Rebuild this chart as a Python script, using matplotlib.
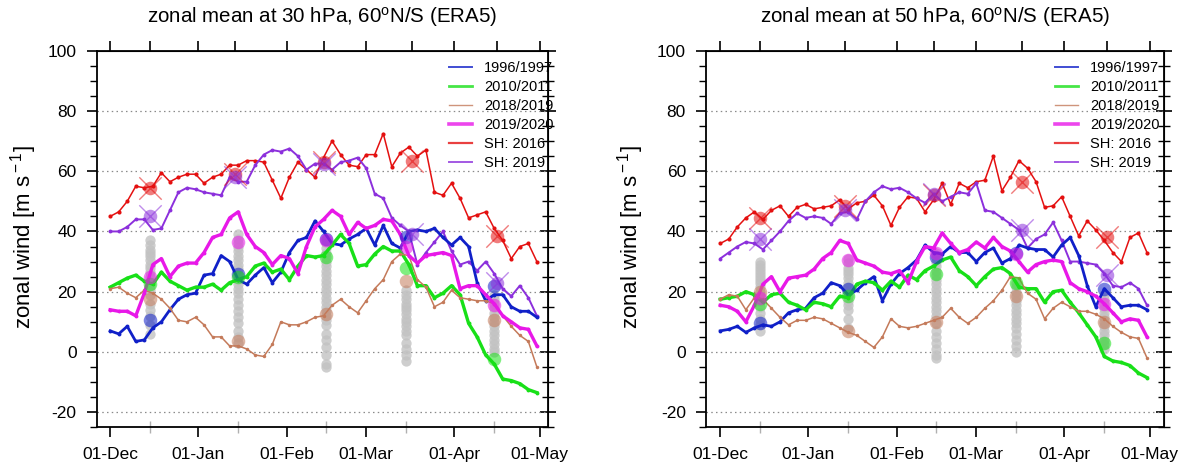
import matplotlib
matplotlib.use("Agg")
import matplotlib.pyplot as plt
from matplotlib.lines import Line2D
from matplotlib.ticker import MultipleLocator
import numpy as np

plt.rcParams.update({
    "font.family": ["Liberation Sans", "DejaVu Sans"],
    "mathtext.fontset": "custom",
    "mathtext.rm": "Liberation Sans",
    "mathtext.it": "Liberation Sans:italic",
    "mathtext.bf": "Liberation Sans:bold",
    "axes.unicode_minus": False,
})

# ── colours ────────────────────────────────────────────────────
BLUE = "#1020c8"
GREEN = "#18e018"
BROWN = "#c47a5a"
MAGENTA = "#e818e8"
RED = "#e41010"
PURPLE = "#8c30dc"
GREY = "#c2c2c2"

# ── data: days since 01-Dec, sampled every 3 days ──────────────
DAYS = np.arange(0, 151, 3)
MONTH_DAYS = [0, 31, 62, 90, 121, 151]
MONTH_LABELS = ["01-Dec", "01-Jan", "01-Feb", "01-Mar", "01-Apr", "01-May"]
MID_DAYS = [14, 45, 76, 104, 135]   # NH composites (15th of month)
SH_DAYS = [14, 44, 75, 106, 136]    # SH composites

LABELS = ["1996/1997", "2010/2011", "2018/2019", "2019/2020", "SH: 2016", "SH: 2019"]

# 30 hPa
BLUE30 = [7, 6, 8.5, 3.5, 4, 8, 10, 14, 17.5, 19,
          19.5, 25.5, 26, 32, 30, 24, 22.5, 25.5, 28, 23,
          26.5, 33, 37, 38, 43.5, 40, 36, 35.5, 37.5, 39,
          41, 35.5, 42, 36, 34.5, 40, 40.5, 40, 41, 38,
          35.5, 38, 35, 23, 17, 19, 19, 15, 13.5, 13.5,
          11.5]
GREEN30 = [21.5, 23, 24.5, 25.5, 23.5, 22.5, 26.5, 23.5, 22, 20.5,
           21.5, 21.5, 22.5, 20.5, 23, 24, 25, 28.5, 29.5, 26.5,
           27.5, 24, 28.5, 32, 31.5, 32, 35.5, 39, 36, 28.5,
           29, 32.5, 35, 33.5, 33.5, 29, 22, 22, 18, 19.5,
           22, 19, 9.5, 5, -1, -4, -9, -9.5, -10.5, -12.5,
           -13.5]
BROWN30 = [21, 21.5, 19.5, 18, 20.5, 19.5, 17.5, 14.5, 10.5, 10,
           11.5, 9, 5, 5, 2, 2, 1, -1, -1.5, 2.5,
           10, 9, 9, 10, 11.5, 12, 15.5, 17.5, 15, 13,
           17, 21, 24, 30, 32.5, 32, 24, 21.5, 15, 16.5,
           20.5, 18, 17.5, 17, 17, 16, 12, 8.5, 5.5, 3.5,
           -5]
MAG30 = [14, 13.5, 13.5, 12, 19.5, 29, 31, 25, 28.5, 29.5,
         29.5, 33, 38, 39, 44.5, 46.5, 39, 35, 33, 29,
         32, 31, 26, 35, 41.5, 44, 47, 45, 39, 43,
         41, 42, 44, 43.5, 39, 32, 29.5, 32, 32.5, 33,
         32, 21, 22, 22, 19, 16, 12, 10, 8, 7.5,
         2]
RED30 = [45, 46.5, 50, 55, 54.5, 55, 59.5, 56.5, 58, 59,
         59, 56, 58, 59, 62, 62, 63.5, 63.5, 63, 57,
         51, 58, 63, 60.5, 58, 64.5, 70, 65.5, 62, 61.5,
         65.5, 65.5, 72.5, 61.5, 66, 68, 65, 67, 53, 52,
         56, 51, 44.5, 45.5, 46.5, 41, 37, 31, 35, 36,
         30]
PUR30 = [40, 40, 41.5, 44, 44, 40.5, 41, 47, 53, 54.5,
         54, 53, 52.5, 52, 58, 56.5, 56.5, 62, 65.5, 67,
         66.5, 67.5, 65, 60.5, 62.5, 62.5, 60.5, 63, 63.5, 64.5,
         61, 52.5, 51, 44.5, 42, 40, 29, 33, 36.5, 40,
         33.5, 29, 30, 27, 30, 26, 21, 18.5, 22, 18,
         12]

# 50 hPa
BLUE50 = [7, 7.5, 8.5, 6.5, 8, 9, 8.5, 10, 13, 14,
          14.5, 18, 19.5, 23, 22, 19, 20.5, 23, 25, 17,
          22.5, 26, 28, 30.5, 35.5, 33, 32.5, 35, 33, 33,
          30, 33, 34.5, 29.5, 31, 35.5, 34.5, 34, 34, 31.5,
          35.5, 38, 32, 22, 15, 21, 18, 15, 15.5, 15.5,
          14]
GREEN50 = [17.5, 18, 18.5, 20, 19, 16.5, 19, 19.5, 16.5, 15.5,
           14, 16.5, 16, 15, 18.5, 18, 22.5, 23.5, 23, 20.5,
           23.5, 21.5, 25.5, 24, 27, 28.5, 30.5, 31.5, 27, 25,
           22, 25, 27.5, 28, 26, 21.5, 21, 21, 16.5, 20,
           20.5, 16.5, 13, 9, 5, -1.5, -3, -3.5, -4.5, -7,
           -8.5]
BROWN50 = [17.5, 19, 18.5, 14, 18, 17.5, 14.5, 11.5, 9, 10.5,
           10.5, 11.5, 11, 9.5, 8, 6.5, 5.5, 3.5, 1.5, 5,
           11, 8.5, 8, 8.5, 9.5, 10.5, 11.5, 14.5, 11.5, 9.5,
           11.5, 14.5, 17, 20.5, 25, 24.5, 19.5, 17.5, 11, 14.5,
           16.5, 15, 13.5, 13.5, 12.5, 11, 8.5, 6.5, 5, 4.5,
           -2]
MAG50 = [15.5, 15, 13.5, 10, 15.5, 22.5, 25, 20, 24.5, 25,
         25.5, 27.5, 31, 33, 37, 36, 30.5, 29.5, 28.5, 26.5,
         26, 27, 23, 30, 35, 34.5, 39.5, 36, 33, 34,
         36.5, 34.5, 38, 35, 33.5, 30, 26.5, 29, 30, 30.5,
         30, 23, 21, 20, 18.5, 16, 13, 10, 11, 10.5,
         5]
RED50 = [36, 37.5, 41.5, 44.5, 46.5, 44, 47, 48.5, 45, 48,
         49, 47.5, 48, 48.5, 50.5, 47.5, 49.5, 50, 52, 48.5,
         42, 48, 51.5, 51, 46.5, 50.5, 56, 49, 56, 54.5,
         56.5, 57, 65, 53.5, 58, 63.5, 61, 56.5, 48, 48.5,
         51.5, 45, 38.5, 43.5, 40.5, 37, 33, 30, 38, 39.5,
         33]
PUR50 = [31, 33, 35, 36.5, 36, 34, 37, 40, 43.5, 46,
         44.5, 45, 44.5, 42.5, 46, 46.5, 44, 50, 53, 55,
         54, 54.5, 53, 51, 49.5, 52.5, 50, 51.5, 53, 52.5,
         56, 47, 46.5, 44.5, 42.5, 40.5, 34.5, 37.5, 39, 43,
         37, 30, 30, 29.5, 29, 26, 22, 21.5, 23, 21,
         15.5]

# composite circles (NH at MID_DAYS, SH at SH_DAYS)
CIRC30 = [[10.5, 26, 37.5, 38, 22],      # 1996/1997
          [22.5, 25, 31.5, 28, -2.5],    # 2010/2011
          [17.5, 3.5, 12.5, 23.5, 10.5], # 2018/2019
          [25, 36.5, 37, 35, 15.5],      # 2019/2020
          [54.5, 59, 63, 63.5, 38.5],    # SH 2016
          [45, 58, 62.5, 39, 23]]        # SH 2019
CIRC50 = [[9.5, 21, 31.5, 33, 21],
          [16, 18.5, 26, 23, 3],
          [20, 7, 10, 18.5, 10],
          [18, 30.5, 33, 32.5, 16],
          [44.5, 48.5, 52, 56.5, 38],
          [37.5, 47, 52.5, 40.5, 25.5]]

# other winters (grey dots), one column per mid-month
GREY30 = [
    [37, 35.5, 34, 33, 32, 30.5, 29, 28, 26.5, 25, 23.5, 22, 20.5, 19, 16, 14, 12, 9, 6],
    [39, 37.5, 36, 35, 33.5, 32, 30.5, 29, 27.5, 26, 24, 22.5, 21, 19.5, 17.5, 15.5, 13.5,
     11.5, 9.5, 7, 5, 3],
    [37.5, 36, 34.5, 33, 31.5, 30, 28.5, 27, 25.5, 24, 22.5, 21, 19.5, 18, 16.5, 15, 13.5,
     12, 10.5, 9, 6, 4, 1.5, -1, -4, -5],
    [20.5, 19, 17.5, 16, 15, 14, 12.5, 11, 10, 8.5, 7, 5.5, 3, 1, -1, -3],
    [19, 17.5, 16, 14.5, 13, 11.5, 10, 8.5, 7, 5.5, 4, 2.5, 1, 0],
]
GREY50 = [
    [30, 29, 28, 27, 26, 25, 24, 23, 21.5, 20, 18.5, 17, 15, 13, 11, 9, 7],
    [31, 29.5, 28, 27, 26, 24.5, 23, 21.5, 20, 18.5, 17, 15.5, 14, 11, 8],
    [33, 31.5, 30, 28.5, 27, 25.5, 24, 22.5, 21, 19.5, 18, 16.5, 15, 13.5, 12, 9.5, 7, 5,
     3, 1, -1, -2],
    [23, 21.5, 20, 18.5, 17, 15.5, 14, 12.5, 11, 9.5, 8, 6, 4, 2, 0],
    [19, 17.5, 16, 14.5, 13, 11.5, 10, 8.5, 7, 5.5, 4, 2.5, 1],
]

# ── per-series style: colour, line width, marker size, is SH ───
STYLES = [
    (BLUE, 2.0, 2.8, False),
    (GREEN, 2.4, 2.8, False),
    (BROWN, 1.1, 2.5, False),
    (MAGENTA, 2.4, 2.8, False),
    (RED, 1.1, 3.0, True),
    (PURPLE, 1.4, 2.8, True),
]
LEGEND_LW = [1.4, 2.0, 1.0, 2.6, 1.6, 1.4]


def draw_panel(ax, series, circles, grey_cols, xlim, legend_x):
    # other winters
    for day, vals in zip(MID_DAYS, grey_cols):
        ax.scatter([day] * len(vals), vals, s=55, color=GREY, alpha=0.8,
                   linewidths=0, zorder=1)

    for vals, (col, lw, ms, sh) in zip(series, STYLES):
        ax.plot(DAYS, vals, color=col, lw=lw, marker="o", ms=ms,
                markeredgewidth=0, zorder=3 if not sh else 2)

    for circ, (col, lw, ms, sh) in zip(circles, STYLES):
        days = SH_DAYS if sh else MID_DAYS
        ax.scatter(days, circ, s=95, color=col, alpha=0.55, linewidths=0, zorder=4)
        if sh:
            ax.scatter(days, circ, s=260, marker="x", color=col, alpha=0.55,
                       linewidths=1.0, zorder=4)

    ax.set_xlim(*xlim)
    ax.set_ylim(-25, 100)
    ax.set_xticks(MONTH_DAYS)
    ax.set_xticklabels(MONTH_LABELS)
    ax.set_xticks(MID_DAYS, minor=True)
    ax.yaxis.set_major_locator(MultipleLocator(20))
    ax.yaxis.set_minor_locator(MultipleLocator(5))

    ax.tick_params(axis="x", which="major", direction="out", length=7.5,
                   width=1.2, labelsize=12.5, pad=7)
    ax.tick_params(axis="x", which="minor", direction="inout", length=9,
                   width=1.0, color="#b0b0b0")
    ax.tick_params(axis="y", which="major", direction="out", length=7.5,
                   width=1.2, labelsize=12.5, pad=7)
    ax.tick_params(axis="y", which="minor", direction="out", length=5, width=1.0)

    top = ax.secondary_xaxis("top")
    top.set_xticks(MONTH_DAYS + SH_DAYS)
    top.tick_params(direction="out", length=7.5, width=1.2, labelsize=0)
    top.set_xticklabels([])

    right = ax.secondary_yaxis("right")
    right.yaxis.set_major_locator(MultipleLocator(20))
    right.yaxis.set_minor_locator(MultipleLocator(5))
    right.tick_params(which="major", direction="inout", length=12, width=1.2)
    right.tick_params(which="minor", direction="inout", length=8, width=1.0)
    right.set_yticklabels([])

    for spine in ax.spines.values():
        spine.set_linewidth(1.3)

    for y in [-20, 0, 20, 40, 60, 80]:
        ax.axhline(y, color="#8a8a8a", lw=0.9, ls=(0, (1.2, 2.6)), zorder=0.5)

    handles = [Line2D([], [], color=st[0], lw=lw, alpha=0.8)
               for st, lw in zip(STYLES, LEGEND_LW)]
    ax.legend(handles, LABELS, loc="upper left", bbox_to_anchor=(legend_x, 0.972),
              frameon=False, fontsize=10.5, borderpad=0, borderaxespad=0,
              handlelength=1.6, handletextpad=0.8, labelspacing=0.34)


def main():
    fig = plt.figure(figsize=(11.83, 4.70), dpi=100)
    ax1 = fig.add_axes([0.0817, 0.0909, 0.3815, 0.8013])
    ax2 = fig.add_axes([0.5968, 0.0909, 0.3872, 0.8013])

    draw_panel(ax1, [BLUE30, GREEN30, BROWN30, MAG30, RED30, PUR30], CIRC30, GREY30,
               (-4.75, 153.9), 0.781)
    draw_panel(ax2, [BLUE50, GREEN50, BROWN50, MAG50, RED50, PUR50], CIRC50, GREY50,
               (-5.0, 156.0), 0.762)

    for ax, lev, xl in [(ax1, "30", 24), (ax2, "50", 631)]:
        pos = ax.get_position()
        fig.text((pos.x0 + pos.x1) / 2, 1 - 17.5 / 470,
                 f"zonal mean at {lev} hPa, 60$^{{\\rm o}}$N/S (ERA5)",
                 ha="center", va="center", fontsize=14.8)
        fig.text(xl / 1183, 1 - 237.5 / 470, "zonal wind [m s$^{\\rm -1}$]",
                 rotation=90, ha="center", va="center", fontsize=16)

    fig.savefig("out.png", dpi=100)
    plt.close(fig)


if __name__ == "__main__":
    main()
